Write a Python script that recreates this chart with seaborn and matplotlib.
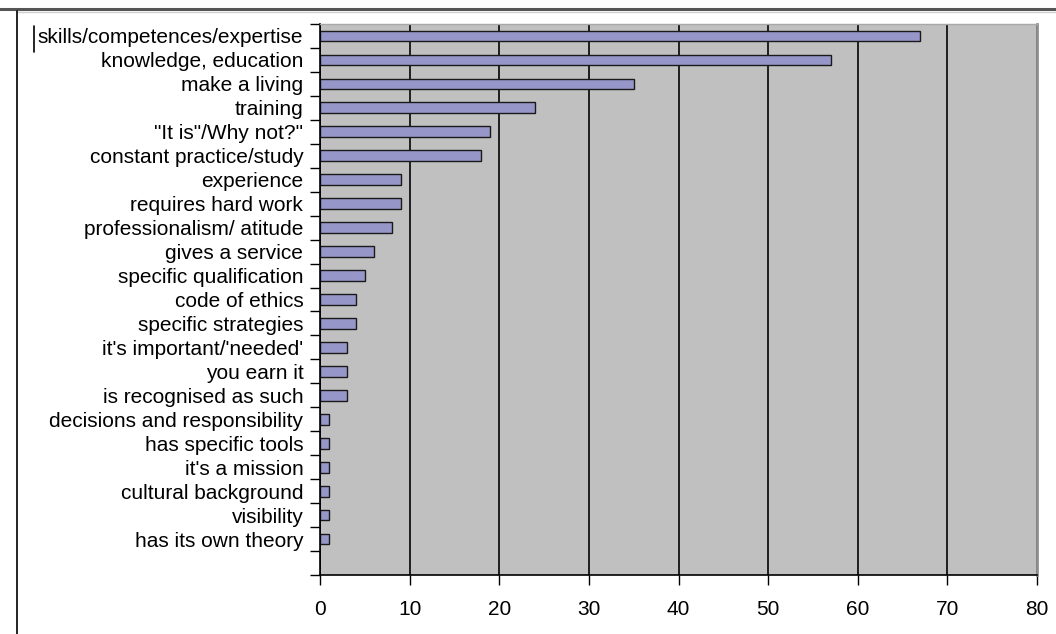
import numpy as np
import pandas as pd
import matplotlib
matplotlib.use("Agg")
import matplotlib.pyplot as plt
from matplotlib.lines import Line2D
import seaborn as sns

categories = [
    "skills/competences/expertise",
    "knowledge, education",
    "make a living",
    "training",
    "\"It is\"/Why not?\"",
    "constant practice/study",
    "experience",
    "requires hard work",
    "professionalism/ atitude",
    "gives a service",
    "specific qualification",
    "code of ethics",
    "specific strategies",
    "it's important/'needed'",
    "you earn it",
    "is recognised as such",
    "decisions and responsibility",
    "has specific tools",
    "it's a mission",
    "cultural background",
    "visibility",
    "has its own theory",
]
counts = [67, 57, 35, 24, 19, 18, 9, 9, 8, 6, 5, 4, 4, 3, 3, 3, 1, 1, 1, 1, 1, 1]
x_ticks = [0, 10, 20, 30, 40, 50, 60, 70, 80]

df = pd.DataFrame({"answer": categories, "count": counts})

sns.set_theme(style="white")
plt.rcParams["font.family"] = ["Liberation Sans", "DejaVu Sans"]

fig = plt.figure(figsize=(10.56, 6.34), dpi=100)
ax = fig.add_axes([320 / 1056, 1 - 575 / 634, 717 / 1056, 551 / 634])
ax.set_facecolor("#C0C0C0")

sns.barplot(data=df, x="count", y="answer", orient="h", ax=ax,
            color="#9696C8", edgecolor="#1a1a1a", linewidth=1.0,
            width=0.45, saturation=1)

ax.set_xlim(0, 80)
ax.set_ylim(len(categories) + 0.5, -0.5)
ax.set_xticks(x_ticks)
ax.set_xlabel("")
ax.set_ylabel("")
ax.grid(axis="x", color="#1e1e1e", linewidth=1.4)
ax.grid(axis="y", visible=False)
ax.set_axisbelow(True)

# category ticks sit between the bars, as in the original
ax.set_yticks(np.arange(-0.5, len(categories) + 1, 1), minor=True)
ax.tick_params(axis="y", which="major", length=0, pad=12, labelsize=15, colors="black")
ax.tick_params(axis="y", which="minor", length=7, width=1, color="black", left=True)
ax.tick_params(axis="x", which="major", length=7, width=1, color="black", bottom=True,
               pad=11, labelsize=15, labelcolor="black")

for side in ["left", "bottom"]:
    ax.spines[side].set_color("black")
    ax.spines[side].set_linewidth(1.2)
ax.spines["top"].set_color("#a8a8a8")
ax.spines["top"].set_linewidth(1.0)
ax.spines["right"].set_color("#909090")
ax.spines["right"].set_linewidth(2.0)

# outer frame bits from the original screenshot
fig.add_artist(Line2D([0, 1], [1 - 9 / 634, 1 - 9 / 634], color="#555555", linewidth=2.2))
fig.add_artist(Line2D([0.016, 1], [1 - 12 / 634, 1 - 12 / 634], color="#d0d0d0", linewidth=1.0))
fig.add_artist(Line2D([16.5 / 1056, 16.5 / 1056], [0, 1 - 11 / 634], color="black", linewidth=1.2))
fig.add_artist(Line2D([34 / 1056, 34 / 1056], [1 - 52 / 634, 1 - 26 / 634], color="black", linewidth=1.2))

fig.savefig("out.png", dpi=100)
